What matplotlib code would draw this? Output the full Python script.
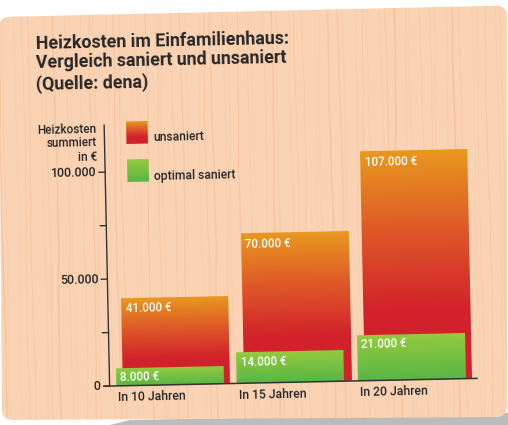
import numpy as np
import matplotlib
matplotlib.use("Agg")
import matplotlib.pyplot as plt
from matplotlib.transforms import Affine2D
from matplotlib.path import Path
from matplotlib.patches import PathPatch, Polygon
from matplotlib.colors import LinearSegmentedColormap

# ---------------- data ----------------
categories = ["In 10 Jahren", "In 15 Jahren", "In 20 Jahren"]
unsaniert = [41000, 70000, 107000]
saniert = [8000, 14000, 21000]
series_names = ["unsaniert", "optimal saniert"]
ytick_values = [0, 25000, 50000, 75000, 100000]
ytick_labeled = [0, 50000, 100000]
title_lines = ["Heizkosten im Einfamilienhaus:",
               "Vergleich saniert und unsaniert",
               "(Quelle: dena)"]
ylabel = "Heizkosten\nsummiert\nin €"


def euro(v):
    return f"{v:,}".replace(",", ".")


# ---------------- figure & transforms ----------------
W, H, DPI = 508, 425, 100
ANGLE = 1.2
FONT = ["Roboto", "DejaVu Sans"]
INK = "#262626"
MED = 500

fig = plt.figure(figsize=(W / DPI, H / DPI), dpi=DPI)
fig.patch.set_facecolor("white")

rot = Affine2D().rotate_deg_around(254, 213, ANGLE)
page = Affine2D().scale(1, -1).translate(0, H)   # pixel coords, y pointing down
card_t = page + rot                                # same, tilted with the card

bg = fig.add_axes([0, 0, 1, 1])
bg.set_axis_off()


def rounded_path(pts, r):
    P = [np.asarray(p, float) for p in pts]
    verts, codes = [], []
    n = len(P)
    for i in range(n):
        prv, cur, nxt = P[i - 1], P[i], P[(i + 1) % n]
        a = cur + (prv - cur) / np.linalg.norm(prv - cur) * r
        b = cur + (nxt - cur) / np.linalg.norm(nxt - cur) * r
        verts.append(a)
        codes.append(Path.MOVETO if i == 0 else Path.LINETO)
        verts += [cur, b]
        codes += [Path.CURVE3, Path.CURVE3]
    verts.append(verts[0])
    codes.append(Path.CLOSEPOLY)
    return Path(verts, codes)


# drop shadow under the card
bg.add_patch(Polygon([(110, 425), (130, 420), (508, 413), (508, 425)],
                     closed=True, facecolor="#bcbcbc", edgecolor="none",
                     transform=page, zorder=0))

# wooden card
card = PathPatch(rounded_path([(-1, 17), (507, 5.5), (507, 417), (2, 420)], 11),
                 facecolor="#FAD3B4", edgecolor="none", transform=page, zorder=1)
bg.add_patch(card)

# wood grain: fine, nearly vertical streaks
ty = np.linspace(-30, H + 30, 160)
for k in range(64):
    x0 = -8 + 8.3 * k + 2.6 * np.sin(2.3 * k)
    wob = 0.9 * np.sin(ty / 53 + 1.3 * k) + 0.3 * np.sin(ty / 13 + k)
    a = 0.06 + 0.16 * (0.5 + 0.5 * np.sin(1.7 * k + 0.4)) ** 2
    lw = 0.5 + 0.7 * (0.5 + 0.5 * np.cos(0.9 * k))
    ln, = bg.plot(x0 + wob, ty, color="#EC8F55", alpha=a, lw=lw,
                  transform=card_t, zorder=2)
    ln.set_clip_path(card)

# ---------------- chart axes ----------------
ax = fig.add_axes([106 / W, (H - 383) / H, 367.5 / W, 261 / H])
ax.set_axis_off()
XMIN, XMAX = -0.525, 2.512
YMAX = 122000
DX = (XMAX - XMIN) / 367.5      # data units per pixel (x)
DY = YMAX / 261.0               # data units per pixel (y)
td = ax.transData + rot

red_cmap = LinearSegmentedColormap.from_list(
    "unsaniert", [(0, "#D2212B"), (0.3, "#D2212B"), (0.65, "#DE5828"), (1, "#E9981F")])
green_cmap = LinearSegmentedColormap.from_list(
    "saniert", [(0, "#58B646"), (1, "#95CA3E")])
grad = np.linspace(1, 0, 256).reshape(-1, 1)


def grad_rect(axes, x0, x1, y0, y1, cmap, trans):
    im = axes.imshow(grad, cmap=cmap, vmin=0, vmax=1, extent=(x0, x1, y0, y1),
                     origin="upper", aspect="auto", interpolation="bilinear",
                     transform=trans, zorder=3)
    im.set_clip_on(False)
    return im


def txt(axes, x, y, s, trans, **kw):
    return axes.text(x, y, s, transform=trans, rotation=ANGLE,
                     rotation_mode="anchor", family=FONT, **kw)


x = np.arange(len(categories))
BW = 0.885
SHIFT = 0.03

for xi, u in zip(x, unsaniert):
    left = xi + SHIFT - BW / 2
    grad_rect(ax, left, left + BW, 0, u, red_cmap, td)
    txt(ax, left + 4 * DX, u - 11 * DY, euro(u) + " €", td, color="white",
        fontsize=8.3, fontweight=MED, ha="left", va="center", zorder=5)

for xi, s, cat in zip(x, saniert, categories):
    left = xi - SHIFT - BW / 2
    grad_rect(ax, left, left + BW, 0, s, green_cmap, td)
    txt(ax, left + 4 * DX, s - 9 * DY, euro(s) + " €", td, color="white",
        fontsize=8.3, fontweight=MED, ha="left", va="center", zorder=5)
    txt(ax, left + 2 * DX, -12 * DY, cat, td, color=INK, fontsize=8.8,
        fontweight=MED, ha="left", va="center", zorder=5)

# axis lines and ticks
ax.plot([XMIN, XMIN], [0, YMAX], color="#333333", lw=1.0, transform=td,
        clip_on=False, zorder=6)
ax.plot([XMIN - 5 * DX, XMAX], [0, 0], color="#333333", lw=1.1, transform=td,
        clip_on=False, zorder=6)
for v in ytick_values:
    ax.plot([XMIN - 6 * DX, XMIN], [v, v], color="#333333", lw=1.0,
            transform=td, clip_on=False, zorder=6)
for v in ytick_labeled:
    txt(ax, XMIN - 9 * DX, v, euro(v), td, color=INK, fontsize=9,
        fontweight=MED, ha="right", va="center")

# axis title
txt(bg, 98, 119, ylabel, card_t, color=INK, fontsize=8.4, fontweight=MED,
    ha="right", va="top", multialignment="right", linespacing=1.1)

# legend
grad_rect(bg, 127.7, 148.7, 141.5, 119.5, red_cmap, card_t)
grad_rect(bg, 128.0, 149.0, 179.6, 157.6, green_cmap, card_t)
txt(bg, 154.5, 139, series_names[0], card_t, color=INK, fontsize=8.7,
    fontweight=MED, ha="left", va="baseline")
txt(bg, 154.7, 178, series_names[1], card_t, color=INK, fontsize=8.7,
    fontweight=MED, ha="left", va="baseline")

# title block
for line, yb in zip(title_lines, [44, 63.5, 85]):
    txt(bg, 39, yb, line, card_t, color=INK, fontsize=12.8, fontweight="bold",
        ha="left", va="baseline")

ax.set_xlim(XMIN, XMAX)
ax.set_ylim(0, YMAX)
bg.set_xlim(0, W)
bg.set_ylim(0, H)

fig.savefig("out.png", dpi=DPI)
